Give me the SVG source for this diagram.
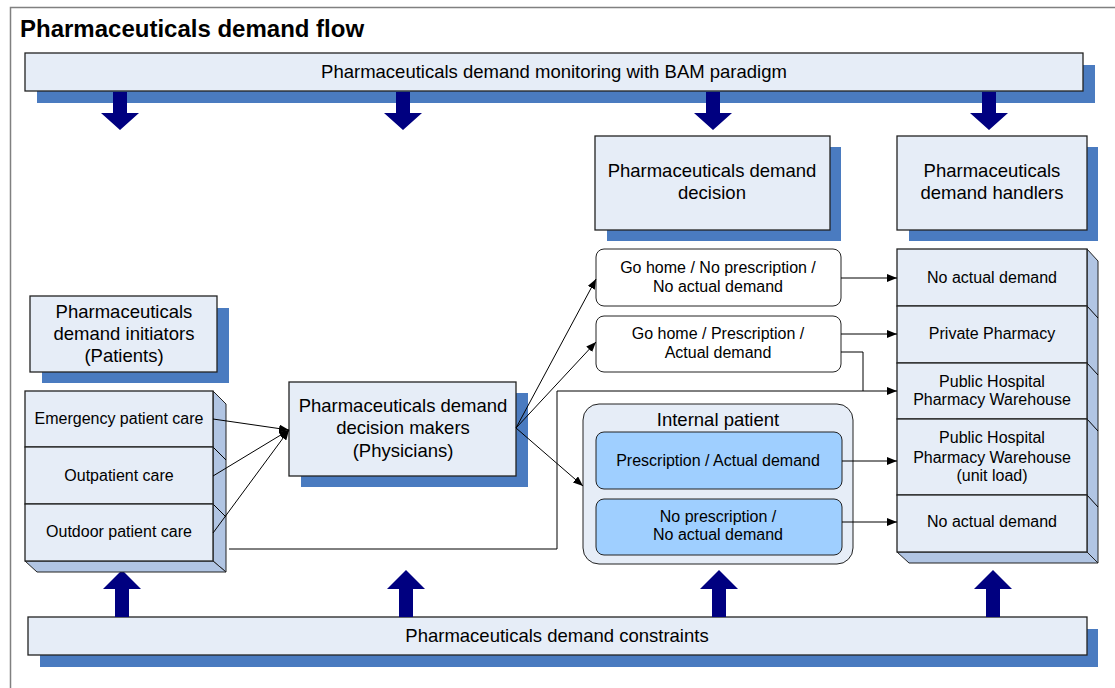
<svg xmlns="http://www.w3.org/2000/svg" width="1115" height="688" viewBox="0 0 1115 688">
<defs>
<style>
text{font-family:"Liberation Sans",Arial,sans-serif;fill:#000;text-anchor:middle}
.big{font-size:18.5px}
.sm{font-size:16px}
.title{font-size:24px;font-weight:bold;text-anchor:start}
.face{fill:#e6edf7;stroke:#222;stroke-width:1.3}
.shadow{fill:#4a7bc0}
.bevel{fill:#b1c5e3;stroke:#222;stroke-width:1}
.navy{fill:#000080}
.rbox{fill:#fff;stroke:#222;stroke-width:1}
.inner{fill:#9fcfff;stroke:#222;stroke-width:1}
.ln{fill:none;stroke:#000;stroke-width:1}
</style>
<marker id="ah" viewBox="0 0 10 8" refX="10" refY="4" markerWidth="10" markerHeight="8" markerUnits="userSpaceOnUse" orient="auto">
<path d="M0,0 L10,4 L0,8 Z" fill="#000"/>
</marker>
</defs>
<rect x="0" y="0" width="1115" height="688" fill="#fff"/>
<rect x="10.5" y="7.5" width="1200" height="800" fill="none" stroke="#808080" stroke-width="1.5"/>
<text class="title" x="20" y="37">Pharmaceuticals demand flow</text>

<g id="monitoring">
<rect class="shadow" x="37" y="65" width="1058" height="38"/>
<rect class="face" x="25" y="53" width="1058" height="38"/>
<text class="big" x="554" y="78">Pharmaceuticals demand monitoring with BAM paradigm</text>
</g>

<g id="down-arrows">
<polygon class="navy" points="113,92 127,92 127,113 139,113 120,130 101,113 113,113"/>
<polygon class="navy" points="396,92 410,92 410,113 422,113 403,130 384,113 396,113"/>
<polygon class="navy" points="706,92 720,92 720,113 732,113 713,130 694,113 706,113"/>
<polygon class="navy" points="982,92 996,92 996,113 1008,113 989,130 970,113 982,113"/>
</g>

<g id="constraints">
<rect class="shadow" x="40" y="629" width="1058" height="38"/>
<rect class="face" x="28" y="617" width="1059" height="38"/>
<text class="big" x="557" y="642">Pharmaceuticals demand constraints</text>
</g>

<g id="up-arrows">
<polygon class="navy" points="115,617 129,617 129,589 141,589 122,570 103,589 115,589"/>
<polygon class="navy" points="399,617 413,617 413,589 425,589 406,570 387,589 399,589"/>
<polygon class="navy" points="712,617 726,617 726,589 738,589 719,570 700,589 712,589"/>
<polygon class="navy" points="986,617 1000,617 1000,589 1012,589 993,570 974,589 986,589"/>
</g>

<g id="decision">
<rect class="shadow" x="607" y="147" width="234" height="94"/>
<rect class="face" x="595" y="136" width="235" height="94"/>
<text class="big" x="712" y="177">Pharmaceuticals demand</text>
<text class="big" x="712" y="199">decision</text>
</g>

<g id="handlers">
<rect class="shadow" x="909" y="147" width="189" height="94"/>
<rect class="face" x="897" y="136" width="190" height="94"/>
<text class="big" x="992" y="177">Pharmaceuticals</text>
<text class="big" x="992" y="199">demand handlers</text>
</g>

<g id="initiators">
<rect class="shadow" x="42" y="308" width="187" height="75"/>
<rect class="face" x="30" y="296" width="187" height="76"/>
<text class="big" x="124" y="318">Pharmaceuticals</text>
<text class="big" x="124" y="340">demand initiators</text>
<text class="big" x="124" y="362">(Patients)</text>
</g>

<g id="physicians">
<rect class="shadow" x="301" y="393" width="227" height="94"/>
<rect class="face" x="289" y="382" width="227" height="94"/>
<text class="big" x="403" y="412">Pharmaceuticals demand</text>
<text class="big" x="403" y="434">decision makers</text>
<text class="big" x="403" y="457">(Physicians)</text>
</g>

<g id="patient-stack">
<polygon class="bevel" points="213,391 226,404 226,572 213,561"/>
<polygon class="bevel" points="25,561 213,561 226,572 37,572"/>
<line class="ln" x1="213" y1="447" x2="226" y2="460"/>
<line class="ln" x1="213" y1="504" x2="226" y2="517"/>
<rect class="face" x="25" y="391" width="188" height="56"/>
<rect class="face" x="25" y="447" width="188" height="57"/>
<rect class="face" x="25" y="504" width="188" height="57"/>
<text class="sm" x="119" y="424">Emergency patient care</text>
<text class="sm" x="119" y="481">Outpatient care</text>
<text class="sm" x="119" y="537">Outdoor patient care</text>
</g>

<g id="handler-stack">
<polygon class="bevel" points="1087,249 1098,261 1098,563 1087,552"/>
<polygon class="bevel" points="897,552 1087,552 1098,563 909,563"/>
<line class="ln" x1="1087" y1="306" x2="1098" y2="318"/>
<line class="ln" x1="1087" y1="363" x2="1098" y2="375"/>
<line class="ln" x1="1087" y1="419" x2="1098" y2="431"/>
<line class="ln" x1="1087" y1="495" x2="1098" y2="507"/>
<rect class="face" x="897" y="249" width="190" height="57"/>
<rect class="face" x="897" y="306" width="190" height="57"/>
<rect class="face" x="897" y="363" width="190" height="56"/>
<rect class="face" x="897" y="419" width="190" height="76"/>
<rect class="face" x="897" y="495" width="190" height="57"/>
<text class="sm" x="992" y="283">No actual demand</text>
<text class="sm" x="992" y="339">Private Pharmacy</text>
<text class="sm" x="992" y="387">Public Hospital</text>
<text class="sm" x="992" y="405">Pharmacy Warehouse</text>
<text class="sm" x="992" y="443">Public Hospital</text>
<text class="sm" x="992" y="463">Pharmacy Warehouse</text>
<text class="sm" x="992" y="481">(unit load)</text>
<text class="sm" x="992" y="527">No actual demand</text>
</g>

<g id="gohome-none">
<rect class="rbox" x="596" y="249" width="245" height="57" rx="8"/>
<text class="sm" x="718" y="273">Go home / No prescription /</text>
<text class="sm" x="718" y="292">No actual demand</text>
</g>

<g id="gohome-rx">
<rect class="rbox" x="596" y="316" width="245" height="56" rx="8"/>
<text class="sm" x="718" y="339">Go home / Prescription /</text>
<text class="sm" x="718" y="358">Actual demand</text>
</g>

<g id="internal">
<rect x="583" y="404" width="270" height="160" rx="16" fill="#e6edf7" stroke="#222" stroke-width="1"/>
<text class="big" x="718" y="426">Internal patient</text>
<rect class="inner" x="596" y="432" width="246" height="57" rx="8"/>
<text class="sm" x="718" y="466">Prescription / Actual demand</text>
<rect class="inner" x="596" y="499" width="246" height="56" rx="8"/>
<text class="sm" x="718" y="522">No prescription /</text>
<text class="sm" x="718" y="540">No actual demand</text>
</g>

<g id="connectors">
<line class="ln" x1="213" y1="419" x2="289" y2="430" marker-end="url(#ah)"/>
<line class="ln" x1="213" y1="476" x2="289" y2="430" marker-end="url(#ah)"/>
<line class="ln" x1="213" y1="533" x2="289" y2="430" marker-end="url(#ah)"/>
<line class="ln" x1="516" y1="428" x2="596" y2="279" marker-end="url(#ah)"/>
<line class="ln" x1="516" y1="428" x2="596" y2="342" marker-end="url(#ah)"/>
<line class="ln" x1="516" y1="428" x2="583" y2="486" marker-end="url(#ah)"/>
<line class="ln" x1="841" y1="278" x2="897" y2="278" marker-end="url(#ah)"/>
<line class="ln" x1="841" y1="334" x2="897" y2="334" marker-end="url(#ah)"/>
<polyline class="ln" points="841,352 863,352 863,391"/>
<polyline class="ln" points="229,549 557,549 557,391 897,391" marker-end="url(#ah)"/>
<line class="ln" x1="842" y1="461" x2="897" y2="461" marker-end="url(#ah)"/>
<line class="ln" x1="842" y1="522" x2="897" y2="522" marker-end="url(#ah)"/>
</g>
</svg>
